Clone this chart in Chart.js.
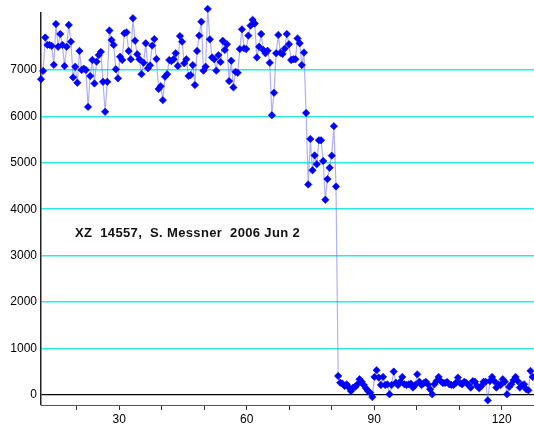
<!DOCTYPE html>
<html><head><meta charset="utf-8">
<script src="https://cdn.jsdelivr.net/npm/chart.js@4.4.1/dist/chart.umd.min.js"></script>
<style>html,body{margin:0;padding:0;background:#fff}#wrap{width:534px;height:429px;position:relative}</style>
</head><body><div id="wrap"><canvas id="c"></canvas></div>
<script>
// Light-curve values (before and after the drop)
const fluxBeforeDrop = [
 6800, 6980, 7700, 7540, 7540, 7520, 7110, 7990, 7500, 7775,
 7540, 7085, 7500, 7970, 7610, 6840, 7070, 6725, 7410, 7000,
 7030, 7000, 6205, 6870, 7215, 6710, 7180, 7320, 7390, 6745,
 6100, 6745, 7850, 7645, 7540, 7015, 6820, 7285, 7215, 7790,
 7810, 7410, 7230, 8115, 7630, 7340, 7230, 6910, 7155, 7575,
 7035, 7100, 7525, 7665, 7235, 6590, 6650, 6350, 6855, 6910,
 7215, 7190, 7230, 7360, 7085, 7730, 7610, 7145, 7230, 6870,
 6890, 7105, 6675, 7410, 7740, 8040, 6985, 7070, 8315, 7660,
 7270, 7230, 6985, 7320, 7170, 7630, 7430, 7555, 6760, 7200,
 6625, 6960, 6940, 7450, 7875, 7465, 7450, 7740, 7955, 8080,
 8000, 7270, 7500, 7775, 7430, 7360, 7415, 7155, 6025, 6510,
 7360, 7755, 7370, 7345, 7460, 7775, 7555, 7215, 7230, 7230,
 7680, 7575, 7105, 7375, 6075, 4535, 5515, 4840, 5160, 4970,
 5485, 5485, 5040, 4205, 4650, 4895, 5155, 5790, 4490
];
const fluxAfterDrop = [
 410, 265, 245, 195, 230, 160, 85, 160, 175, 230,
 340, 285, 215, 145, 85, 50, -45, 390, 535, 375,
 215, 390, 215, 230, 15, 215, 505, 265, 215, 285,
 390, 230, 215, 230, 245, 160, 215, 445, 285, 215,
 255, 285, 230, 125, 15, 230, 300, 390, 300, 260,
 260, 280, 230, 215, 215, 260, 375, 260, 230, 285,
 260, 215, 160, 300, 285, 195, 145, 195, 285, 285,
 -115, 300, 390, 300, 160, 230, 215, 340, 285, 15,
 175, 230, 320, 390, 300, 160, 215, 230, 125, 100,
 520, 390
];
// sampling: first sample time and sample interval
const T0 = 11.6;
const DT = 0.503;
const xTicks = [20, 30, 40, 50, 60, 70, 80, 90, 100, 110, 120];
const xLabeledTicks = [30, 60, 90, 120];
const yTicks = [0, 1000, 2000, 3000, 4000, 5000, 6000, 7000];
const xRange = [11.6, 127.6];
const yRange = [-215, 8227];
const noteText = 'XZ  14557,  S. Messner  2006 Jun 2';
const notePos = [19.6, 3490];

const flux = fluxBeforeDrop.concat(fluxAfterDrop);
const points = flux.map((v, i) => ({x: T0 + i * DT, y: v}));

const notePlugin = {
  id: 'note',
  afterDraw(chart) {
    const c = chart.ctx, xs = chart.scales.x, ys = chart.scales.y;
    c.save();
    c.font = 'bold 13px "Liberation Sans", Arial, sans-serif';
    if ('letterSpacing' in c) c.letterSpacing = '0.35px';
    c.fillStyle = '#111';
    c.textBaseline = 'middle';
    c.textAlign = 'left';
    c.fillText(noteText, xs.getPixelForValue(notePos[0]), ys.getPixelForValue(notePos[1]));
    c.restore();
  }
};

Chart.defaults.font.family = '"Liberation Sans", Arial, sans-serif';
new Chart(document.getElementById('c'), {
  type: 'line',
  data: {datasets: [{
    data: points,
    borderColor: 'rgba(110,110,255,0.55)',
    borderWidth: 1.2,
    pointStyle: 'rectRot',
    pointRadius: 3.7,
    pointBackgroundColor: '#0000ff',
    pointBorderColor: '#0000ff',
    pointBorderWidth: 0.6,
    tension: 0,
    fill: false,
    clip: false
  }]},
  options: {
    responsive: true,
    maintainAspectRatio: false,
    animation: false,
    layout: {padding: {top: 13, right: 0, left: 0, bottom: 0}, autoPadding: false},
    plugins: {legend: {display: false}, tooltip: {enabled: false}},
    scales: {
      x: {
        type: 'linear', min: xRange[0], max: xRange[1],
        afterBuildTicks: s => { s.ticks = xTicks.map(v => ({value: v})); },
        afterFit: s => { s.height = 24; s.paddingLeft = 0; s.paddingRight = 0; },
        grid: {drawOnChartArea: false, drawTicks: true, tickLength: 5, color: '#333', lineWidth: 1},
        border: {display: true, color: '#555', width: 1},
        ticks: {autoSkip: false, maxRotation: 0, padding: 2, color: '#000', font: {size: 12},
          callback: v => xLabeledTicks.includes(v) ? String(v) : ''}
      },
      y: {
        type: 'linear', min: yRange[0], max: yRange[1],
        afterBuildTicks: s => { s.ticks = yTicks.map(v => ({value: v})); },
        afterFit: s => { s.width = 41; s.paddingTop = 0; s.paddingBottom = 0; },
        grid: {drawTicks: false,
          color: c => (c.tick && c.tick.value === 0) ? '#000' : '#2fe8e8',
          lineWidth: c => (c.tick && c.tick.value === 0) ? 1.2 : 1.6},
        border: {display: true, color: '#222', width: 1.5},
        ticks: {padding: 4, color: '#000', font: {size: 12}, callback: v => String(v)}
      }
    }
  },
  plugins: [notePlugin]
});
</script>
</body></html>
